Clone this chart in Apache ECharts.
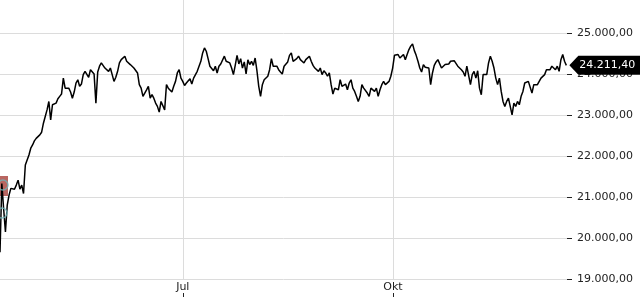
<!DOCTYPE html>
<html>
<head>
<meta charset="utf-8">
<script src="https://cdn.jsdelivr.net/npm/echarts@6/dist/echarts.min.js"></script>
<style>
html,body{margin:0;padding:0;background:#fff;}
#chart{width:640px;height:300px;}
</style>
</head>
<body>
<div id="chart"></div>
<script>
// x = days relative to 1 July; samples are evenly spaced in time
const startDay = -80;
const stepDay = 0.792;
const monthTicks = [0, 92];
const monthLabels = ['Jul', 'Okt'];
const yTicksMin = 19000;
const yTicksStep = 1000;

const prices = [
  19650, 21330, 20720, 20150, 20800, 21045, 21210, 21250, 21190, 21290,
  21410, 21190, 21290, 21085, 21780, 21900, 22025, 22190, 22270, 22370,
  22430, 22470, 22515, 22580, 22800, 22965, 23125, 23330, 22880, 23250,
  23235, 23290, 23395, 23455, 23510, 23900, 23655, 23615, 23655, 23560,
  23410, 23560, 23780, 23860, 23700, 23755, 23985, 24065, 24105, 23920,
  24105, 24145, 24000, 23290, 24050, 24190, 24270, 24230, 24145, 24190,
  24065, 24145, 23985, 23820, 23920, 24065, 24270, 24350, 24390, 24435,
  24310, 24350, 24230, 24190, 24145, 24105, 24025, 23740, 23655, 23455,
  23535, 23615, 23700, 23410, 23495, 23410, 23290, 23210, 23070, 23330,
  23290, 23125, 23740, 23655, 23615, 23560, 23700, 23820, 24025, 24105,
  23900, 23820, 23720, 23780, 23820, 23885, 23755, 23900, 23945, 24065,
  24190, 24310, 24515, 24635, 24555, 24375, 24190, 24210, 24080, 24190,
  24025, 24190, 24245, 24230, 24435, 24310, 24345, 24270, 24145, 23985,
  24210, 24455, 24245, 24375, 24145, 24295, 24000, 24345, 24230, 24310,
  24210, 24390, 24080, 23700, 23455, 23740, 23860, 23900, 23945, 24105,
  24375, 24190, 24165, 24190, 24105, 24050, 24000, 24190, 24230, 24295,
  24455, 24515, 24310, 24350, 24375, 24435, 24350, 24310, 24270, 24350,
  24310, 24435, 24310, 24210, 24145, 24190, 24065, 24145, 23985, 24080,
  24025, 23945, 24025, 23740, 23510, 23655, 23700, 23615, 23860, 23700,
  23655, 23755, 23615, 23780, 23860, 23655, 23575, 23455, 23330, 23455,
  23740, 23655, 23700, 23535, 23455, 23655, 23700, 23575, 23655, 23455,
  23615, 23740, 23820, 23740, 23780, 23820, 23945, 24145, 24455, 24410,
  24475, 24390, 24375, 24475, 24350, 24475, 24595, 24680, 24735, 24570,
  24455, 24310, 24145, 24050, 24230, 24165, 24210, 24145, 23740, 24025,
  24210, 24295, 24350, 24310, 24145, 24105, 24230, 24190, 24245, 24310,
  24270, 24325, 24310, 24190, 24145, 24105, 24050, 23945, 24190, 24145,
  23740, 23985, 24065, 23900, 24080, 23655, 23495, 23985, 24025, 23985,
  24270, 24435, 24310, 24145, 23900, 23740, 23900, 23575, 23330, 23210,
  23330, 23410, 23455, 23005, 23290, 23210, 23330, 23250, 23455, 23575,
  23780, 23740, 23820, 23860, 23535, 23740, 23780, 23740, 23820, 23900,
  23945, 23985, 24105, 24145, 24105, 24190, 24145, 24105, 24190, 24065,
  24350, 24475, 24310, 24211.40
];

// event markers at the left edge
const eventBoxes = [[-80, 21268]];
const eventRings = [[-78.7, 21293], [-79.1, 20610]];

function fmt(v) {
  const s = Number(v).toFixed(2);
  const parts = s.split('.');
  const i = parts[0].replace(/\B(?=(\d{3})+(?!\d))/g, '.');
  return i + ',' + parts[1];
}

const seriesData = prices.map((p, i) => [startDay + i * stepDay, p]);
const last = seriesData[seriesData.length - 1];

const FONT = 'DejaVu Sans';
const chart = echarts.init(document.getElementById('chart'), null, {renderer: 'canvas'});
chart.setOption({
  animation: false,
  backgroundColor: '#ffffff',
  textStyle: {fontFamily: FONT},
  grid: {left: 0, right: 73, top: 0, bottom: 21, containLabel: false},
  xAxis: {
    type: 'value',
    min: startDay,
    max: startDay + 566.5 / 2.2826,
    offset: 14,
    axisLine: {show: false, onZero: false},
    axisTick: {show: true, length: 4, customValues: monthTicks, lineStyle: {color: '#222'}},
    axisLabel: {
      inside: true, margin: 0, customValues: monthTicks,
      fontSize: 11, color: '#222', fontFamily: FONT,
      formatter: v => monthLabels[monthTicks.indexOf(v)] || ''
    },
    splitLine: {show: true, lineStyle: {color: '#dcdcdc', width: 1}}
  },
  yAxis: {
    type: 'value',
    position: 'right',
    min: yTicksMin,
    max: 25805,
    interval: yTicksStep,
    axisLine: {show: false, onZero: false},
    axisTick: {show: true, length: 5, lineStyle: {color: '#222'}},
    axisLabel: {
      margin: 10, fontSize: 11, color: '#222', fontFamily: FONT,
      showMaxLabel: false,
      formatter: v => (v % 1000 === 0 ? fmt(v) : '')
    },
    splitLine: {show: true, showMaxLine: false, lineStyle: {color: '#dcdcdc', width: 1}}
  },
  series: [
    {
      type: 'scatter',
      data: eventBoxes,
      symbol: 'rect',
      symbolSize: [16, 20],
      itemStyle: {color: '#a8403a'},
      clip: false,
      z: 1,
      silent: true
    },
    {
      type: 'line',
      data: seriesData,
      showSymbol: false,
      symbol: 'none',
      lineStyle: {color: '#000', width: 1.5},
      z: 3,
      markPoint: {
        symbol: 'path://M0,9.5 L9,0 L74,0 L74,19 L9,19 Z',
        symbolSize: [74, 19],
        symbolKeepAspect: false,
        symbolOffset: [40, 0],
        itemStyle: {color: '#000'},
        label: {
          show: true, position: 'inside', color: '#fff', fontSize: 11,
          fontFamily: FONT, offset: [1, 0],
          formatter: p => fmt(p.value)
        },
        data: [{coord: last, value: last[1]}]
      }
    },
    {
      type: 'scatter',
      data: eventRings,
      symbol: 'circle',
      symbolSize: 10,
      itemStyle: {color: 'rgba(0,0,0,0)', borderColor: '#6fb3b8', borderWidth: 1.5},
      clip: false,
      z: 4,
      silent: true
    }
  ]
});
</script>
</body>
</html>
